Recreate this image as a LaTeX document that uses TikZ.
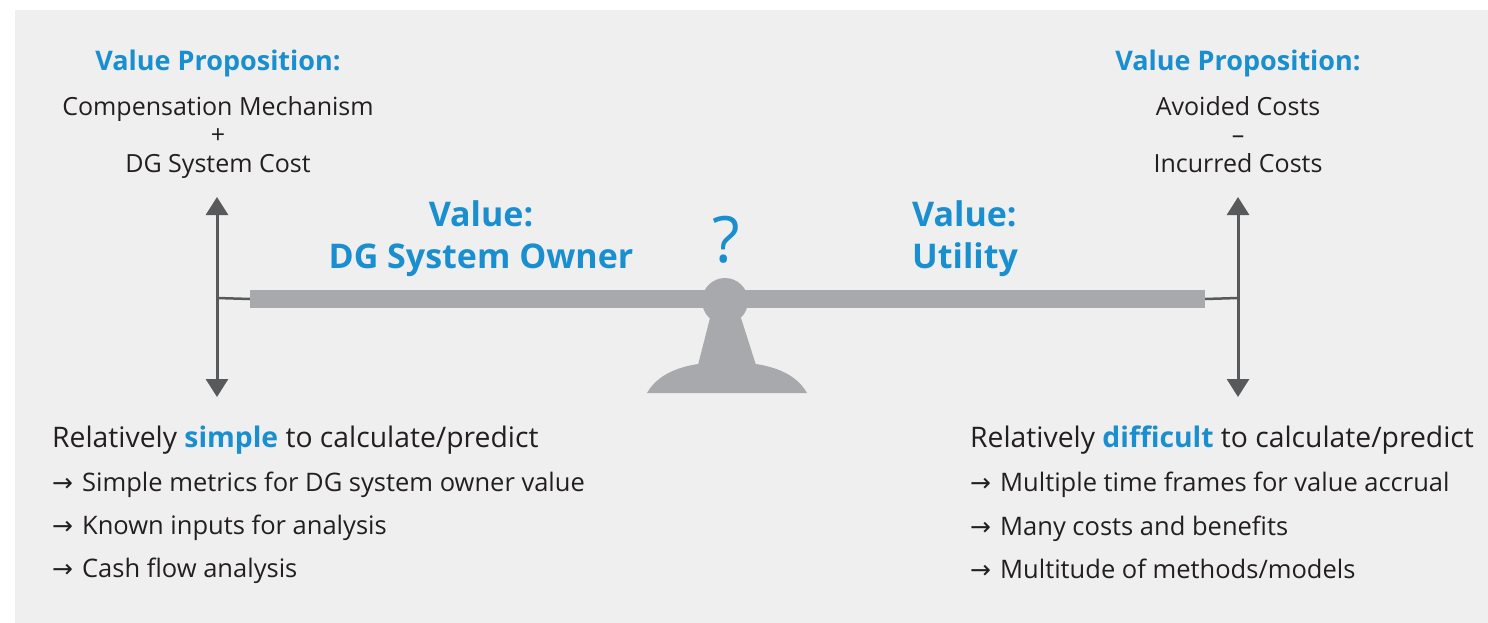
\documentclass[tikz,border=0pt]{standalone}
\usepackage{fontspec}
\setmainfont{Open Sans}
\newfontfamily\arrowfont{DejaVu Sans}
\usetikzlibrary{arrows.meta}

\definecolor{panelgray}{HTML}{EFEFEF}
\definecolor{beamgray}{HTML}{A7A9AC}
\definecolor{arrowgray}{HTML}{58595B}
\definecolor{valueblue}{HTML}{1A8FD0}
\definecolor{textblack}{HTML}{231F20}

\tikzset{
  vprop/.style={font=\fontsize{27}{30}\selectfont\bfseries, text=valueblue, anchor=base},
  vterm/.style={font=\fontsize{25}{28}\selectfont, text=textblack, anchor=base},
  vtitle/.style={font=\fontsize{34}{38}\selectfont\bfseries, text=valueblue},
  ease/.style={font=\fontsize{28.3}{32}\selectfont, text=textblack, anchor=base west, inner sep=0pt},
  bullet/.style={font=\fontsize{25.5}{29}\selectfont, text=textblack, anchor=base west, inner sep=0pt},
  scalearrow/.style={draw=arrowgray, line width=3pt,
    {Triangle[width=22pt,length=18pt]}-{Triangle[width=22pt,length=18pt]}},
  stub/.style={draw=arrowgray, line width=2.5pt},
}
\newcommand{\bul}{{\arrowfont\fontsize{25}{28}\selectfont\char"2192}\hspace{9pt}}

\begin{document}
\begin{tikzpicture}[x=1pt,y=-1pt]
  \useasboundingbox (0,0) rectangle (1488,623);
  \fill[panelgray] (15,10) rectangle (1488,623);

  % value propositions
  \node[vprop] (lprop) at (218,71) {Value Proposition:};
  \node[vterm] (lcomp) at (218,116) {Compensation Mechanism};
  \node[vterm] (lplus) at (218,143) {+};
  \node[vterm] (lcost) at (218,172) {DG System Cost};

  \node[vprop] (rprop) at (1238,71) {Value Proposition:};
  \node[vterm] (ravoid) at (1238,116) {Avoided Costs};
  \node[vterm] (rminus) at (1238,143) {\char"2013};
  \node[vterm] (rincur) at (1238,172) {Incurred Costs};

  % beam and fulcrum
  \node[fill=beamgray, minimum width=955pt, minimum height=18pt, inner sep=0pt] (beam) at (727.5,299) {};
  \fill[beamgray] (725,301) circle (23pt);
  \fill[beamgray] (710,318) -- (741,318) -- (756,365) -- (698,365) -- cycle;
  \fill[beamgray] (647,393) .. controls (660,370) and (690,362) .. (727,362)
    .. controls (764,362) and (794,370) .. (807,393) -- cycle;

  % arrows
  \coordinate (ltop) at (217,197);
  \coordinate (lbot) at (217,397);
  \coordinate (lmid) at (217,298);
  \coordinate (rtop) at (1238,197);
  \coordinate (rbot) at (1238,397);
  \coordinate (rmid) at (1238,298);
  \draw[scalearrow] (lbot) -- (ltop);
  \draw[scalearrow] (rbot) -- (rtop);
  \draw[stub] (lmid) -- (beam.west);
  \draw[stub] (rmid) -- (beam.east);

  % titles
  \node[vtitle, anchor=base] (lval) at (481,226) {Value:};
  \node[vtitle, anchor=base] (lowner) at (481,268) {DG System Owner};
  \node[vtitle, anchor=base west, inner sep=0pt] (rval) at (912,226) {Value:};
  \node[vtitle, anchor=base west, inner sep=0pt] (rutil) at (912,268) {Utility};
  \node[font=\fontsize{64}{64}\selectfont, text=valueblue, anchor=base] (quest) at (726,262) {?};

  % ease of calculation
  \node[ease] (lease) at (52,447) {Relatively \textcolor{valueblue}{\bfseries simple} to calculate/predict};
  \node[bullet] (lb1) at (52,491) {\bul Simple metrics for DG system owner value};
  \node[bullet] (lb2) at (52,534) {\bul Known inputs for analysis};
  \node[bullet] (lb3) at (52,577) {\bul Cash flow analysis};

  \node[ease] (rease) at (970,447) {Relatively \textcolor{valueblue}{\bfseries difficult} to calculate/predict};
  \node[bullet] (rb1) at (970,491) {\bul Multiple time frames for value accrual};
  \node[bullet] (rb2) at (970,535) {\bul Many costs and benefits};
  \node[bullet] (rb3) at (970,578) {\bul Multitude of methods/models};
\end{tikzpicture}
\end{document}
